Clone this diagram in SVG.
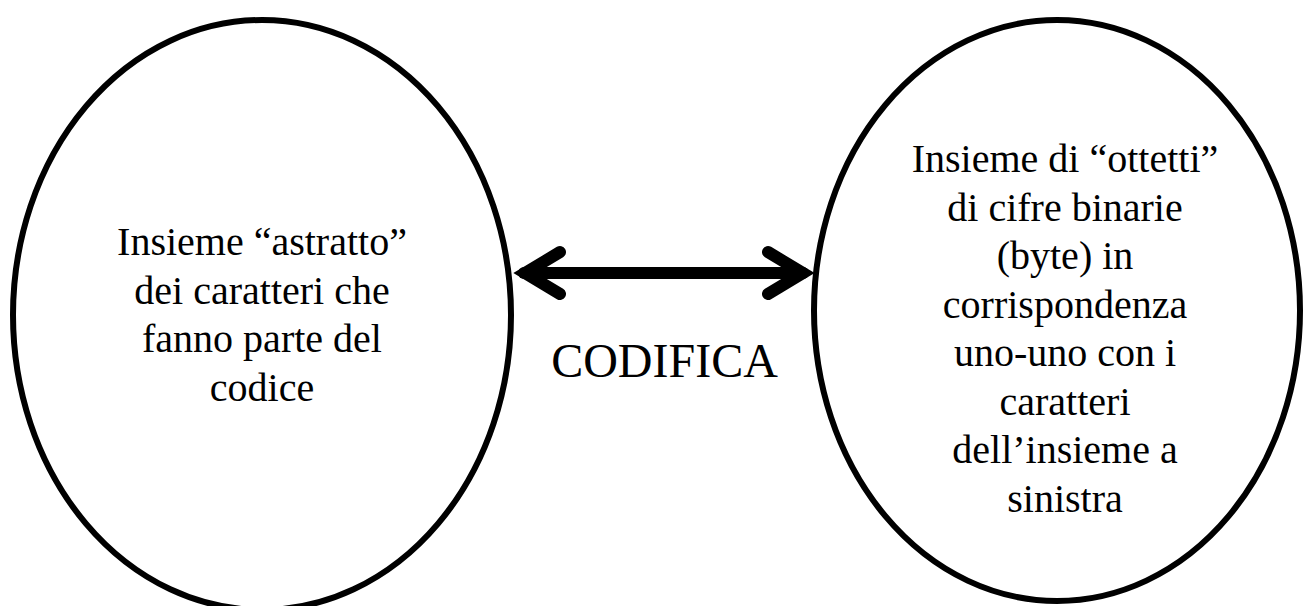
<svg xmlns="http://www.w3.org/2000/svg" width="1305" height="606" viewBox="0 0 1305 606">
<style>
.node{fill:#fff;stroke:#000;stroke-width:6}
.t{font-family:"Liberation Serif","Times New Roman",serif;font-size:40px;fill:#000;text-anchor:middle}
.conn{fill:none;stroke:#000;stroke-width:12;stroke-linecap:round;stroke-linejoin:miter}
</style>
<rect width="1305" height="606" fill="#fff"/>
<g id="left-set">
<ellipse class="node" cx="262" cy="315" rx="249" ry="295"/>
<text class="t" x="262" y="255">Insieme “astratto”</text>
<text class="t" x="262" y="303.5">dei caratteri che</text>
<text class="t" x="262" y="352">fanno parte del</text>
<text class="t" x="262" y="400.5">codice</text>
</g>
<g id="right-set">
<ellipse class="node" cx="1057" cy="310.5" rx="243" ry="290.5"/>
<text class="t" x="1065" y="172">Insieme di “ottetti”</text>
<text class="t" x="1065" y="220.5">di cifre binarie</text>
<text class="t" x="1065" y="269">(byte) in</text>
<text class="t" x="1065" y="317.5">corrispondenza</text>
<text class="t" x="1065" y="366">uno-uno con i</text>
<text class="t" x="1065" y="414.5">caratteri</text>
<text class="t" x="1065" y="463">dell’insieme a</text>
<text class="t" x="1065" y="511.5">sinistra</text>
</g>
<g id="connectors">
<path class="conn" d="M524,273 L803,273"/>
<path class="conn" d="M560,252 L525,273 L560,294"/>
<path class="conn" d="M768,252 L803,273 L768,294"/>
<text class="t" x="664.5" y="377" style="font-size:48px">CODIFICA</text>
</g>
</svg>
